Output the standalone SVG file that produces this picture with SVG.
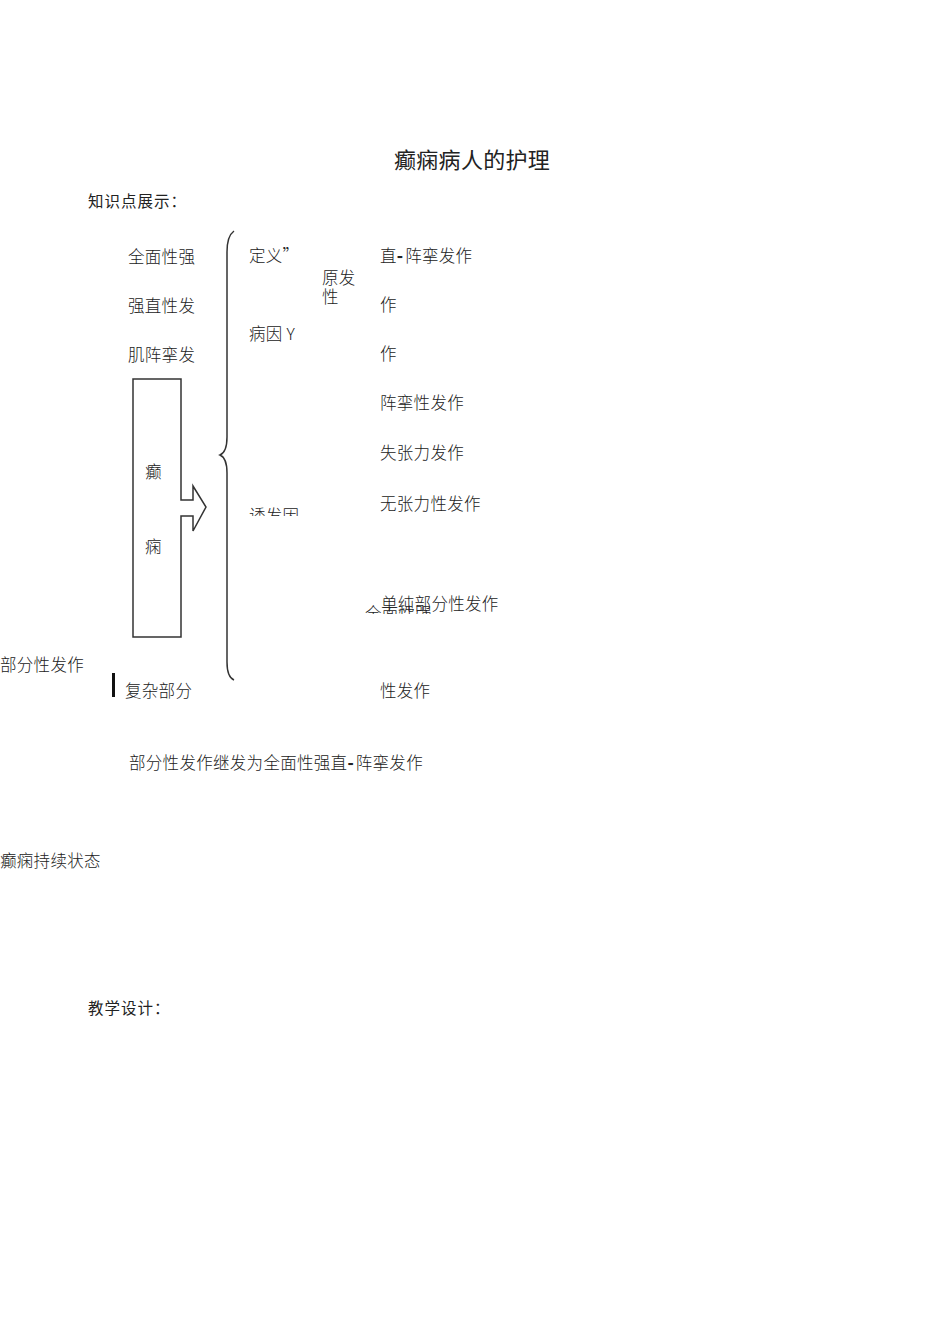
<svg xmlns="http://www.w3.org/2000/svg" width="950" height="1344" viewBox="0 0 950 1344">
<style>
text{font-family:"Noto Sans CJK SC","Liberation Sans",sans-serif;fill:#222;}
.b{font-size:16.5px;font-weight:300;letter-spacing:0.3px;}
.h{font-size:15.5px;letter-spacing:1px;}
.t{font-size:22px;letter-spacing:0.3px;}
.ln{fill:none;stroke:#333;stroke-width:1.5;}
.d{font-weight:900;letter-spacing:2px;}
</style>
<defs>
<clipPath id="c1"><rect x="240" y="490" width="80" height="26"/></clipPath>
<clipPath id="c2"><rect x="355" y="590" width="90" height="24"/></clipPath>
</defs>
<rect width="950" height="1344" fill="#fff"/>
<g id="title"><text class="t" x="394" y="168">癫痫病人的护理</text></g>
<g id="heading1"><text class="h" x="88" y="207">知识点展示：</text></g>
<g id="left-list">
<text class="b" x="128" y="263">全面性强</text>
<text class="b" x="128" y="312">强直性发</text>
<text class="b" x="128" y="361">肌阵挛发</text>
</g>
<g id="node-epilepsy">
<path class="ln" d="M133,379 L181,379 L181,500 L193,500 L193,486 L206,507 L193,531 L193,516 L181,516 L181,637 L133,637 Z"/>
<text class="b" x="145" y="478">癫</text>
<text class="b" x="145" y="553">痫</text>
</g>
<g id="connectors">
<path class="ln" d="M234,231 Q227,236 227,252 L227,437 Q227,452 220,455 Q227,458 227,473 L227,662 Q227,677 234,680"/>
</g>
<g id="mid-list">
<text class="b" x="249" y="262">定义”</text>
<text class="b" x="249" y="340">病因 Y</text>
<text class="b" x="322" y="284">原发</text>
<text class="b" x="322" y="303">性</text>
<text class="b" x="249" y="522" clip-path="url(#c1)">诱发因</text>
</g>
<g id="right-list">
<text class="b" x="380" y="262">直<tspan class="d">-</tspan>阵挛发作</text>
<text class="b" x="380" y="311">作</text>
<text class="b" x="380" y="360">作</text>
<text class="b" x="380" y="409">阵挛性发作</text>
<text class="b" x="380" y="459">失张力发作</text>
<text class="b" x="380" y="510">无张力性发作</text>
<text class="b" x="365" y="620" clip-path="url(#c2)">全面性强</text>
<text class="b" x="381" y="610">单纯部分性发作</text>
<text class="b" x="380" y="697">性发作</text>
</g>
<g id="partial">
<text class="b" x="0" y="671">部分性发作</text>
<rect x="112" y="673" width="3" height="24" fill="#111"/>
<text class="b" x="125" y="697">复杂部分</text>
<text class="b" x="129" y="769">部分性发作继发为全面性强直<tspan class="d">-</tspan>阵挛发作</text>
<text class="b" x="0" y="867">癫痫持续状态</text>
</g>
<g id="heading2"><text class="h" x="88" y="1014">教学设计：</text></g>
</svg>
